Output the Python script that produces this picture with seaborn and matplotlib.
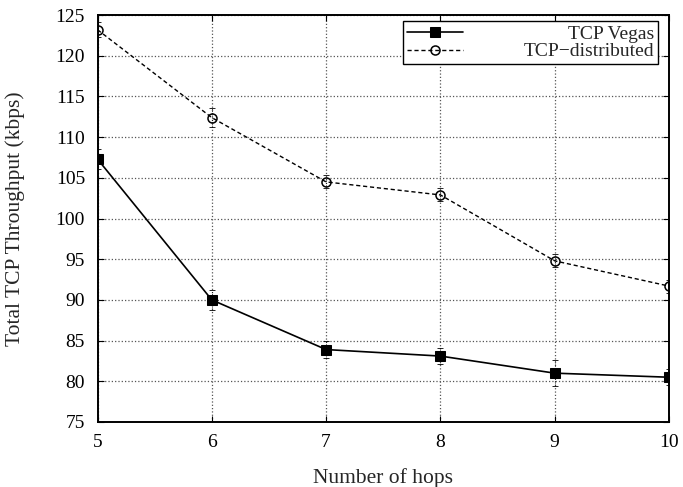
import numpy as np
import pandas as pd
import matplotlib
matplotlib.use("Agg")
import matplotlib.pyplot as plt
import seaborn as sns

# data
hops = [5, 6, 7, 8, 9, 10]
vegas = [107.3, 90.0, 83.9, 83.1, 81.0, 80.5]
vegas_err = [1.2, 1.2, 1.0, 1.0, 1.6, 1.0]
distributed = [123.2, 112.4, 104.5, 102.9, 94.8, 91.7]
distributed_err = [0.9, 1.2, 0.8, 0.8, 0.8, 0.8]
yticks = [75, 80, 85, 90, 95, 100, 105, 110, 115, 120, 125]

sns.set_style("ticks")
plt.rcParams['font.family'] = ['Liberation Serif', 'DejaVu Serif']

df = pd.DataFrame({
    'hops': hops * 2,
    'thr': vegas + distributed,
    'proto': ['TCP Vegas'] * len(hops) + ['TCP\u2212distributed'] * len(hops),
})

fig = plt.figure(figsize=(6.83, 4.87), dpi=100)
ax = fig.add_axes([0.1428, 0.1335, 0.8367, 0.8355])

# error bars (dotted, thin)
for y, e in [(vegas, vegas_err), (distributed, distributed_err)]:
    eb = ax.errorbar(hops, y, yerr=e, fmt='none', ecolor='black', elinewidth=0.6,
                     capsize=2.5, capthick=0.6, zorder=2)
    for c in eb[2]:
        c.set_linestyle(':')

sns.lineplot(data=df[df['proto'] == 'TCP Vegas'], x='hops', y='thr', ax=ax,
             color='black', marker='s', markersize=6.5, linewidth=1.2,
             markeredgecolor='black', label='TCP Vegas', zorder=3)
sns.lineplot(data=df[df['proto'] != 'TCP Vegas'], x='hops', y='thr', ax=ax,
             color='black', marker='o', markersize=6.5, linewidth=1.0,
             linestyle=(0, (3, 2)), markerfacecolor='none', markeredgecolor='black',
             markeredgewidth=1.1, label='TCP\u2212distributed', zorder=3)

ax.set_xlim(5, 10)
ax.set_ylim(75, 125)
ax.set_xticks(hops)
ax.set_yticks(yticks)
ax.grid(True, linestyle=':', color='#555555', linewidth=0.9)
ax.tick_params(direction='in', top=True, right=True, labelsize=14, length=4,
               pad=9, colors='black')
for s in ax.spines.values():
    s.set_linewidth(1.4)
    s.set_color('black')

ax.set_xlabel('Number of hops', fontsize=15.5)
ax.set_ylabel('Total TCP Throughput (kbps)', fontsize=15.5)
ax.xaxis.set_label_coords(0.5, -0.113)
ax.yaxis.set_label_coords(-0.127, 0.5)

leg = ax.legend(loc='upper right', bbox_to_anchor=(0.981, 0.985), borderaxespad=0,
                fontsize=14, frameon=True, fancybox=False, framealpha=1,
                edgecolor='black', handlelength=2.9, handletextpad=3.1,
                borderpad=0.2, labelspacing=0.0)
leg.get_frame().set_linewidth(1.0)

# right-align legend texts like the original
fig.canvas.draw()
renderer = fig.canvas.get_renderer()
texts = leg.get_texts()
widths = [t.get_window_extent(renderer).width for t in texts]
for t, w in zip(texts, widths):
    t.set_position((max(widths) - w, 0))

fig.savefig('out.png', dpi=100)
